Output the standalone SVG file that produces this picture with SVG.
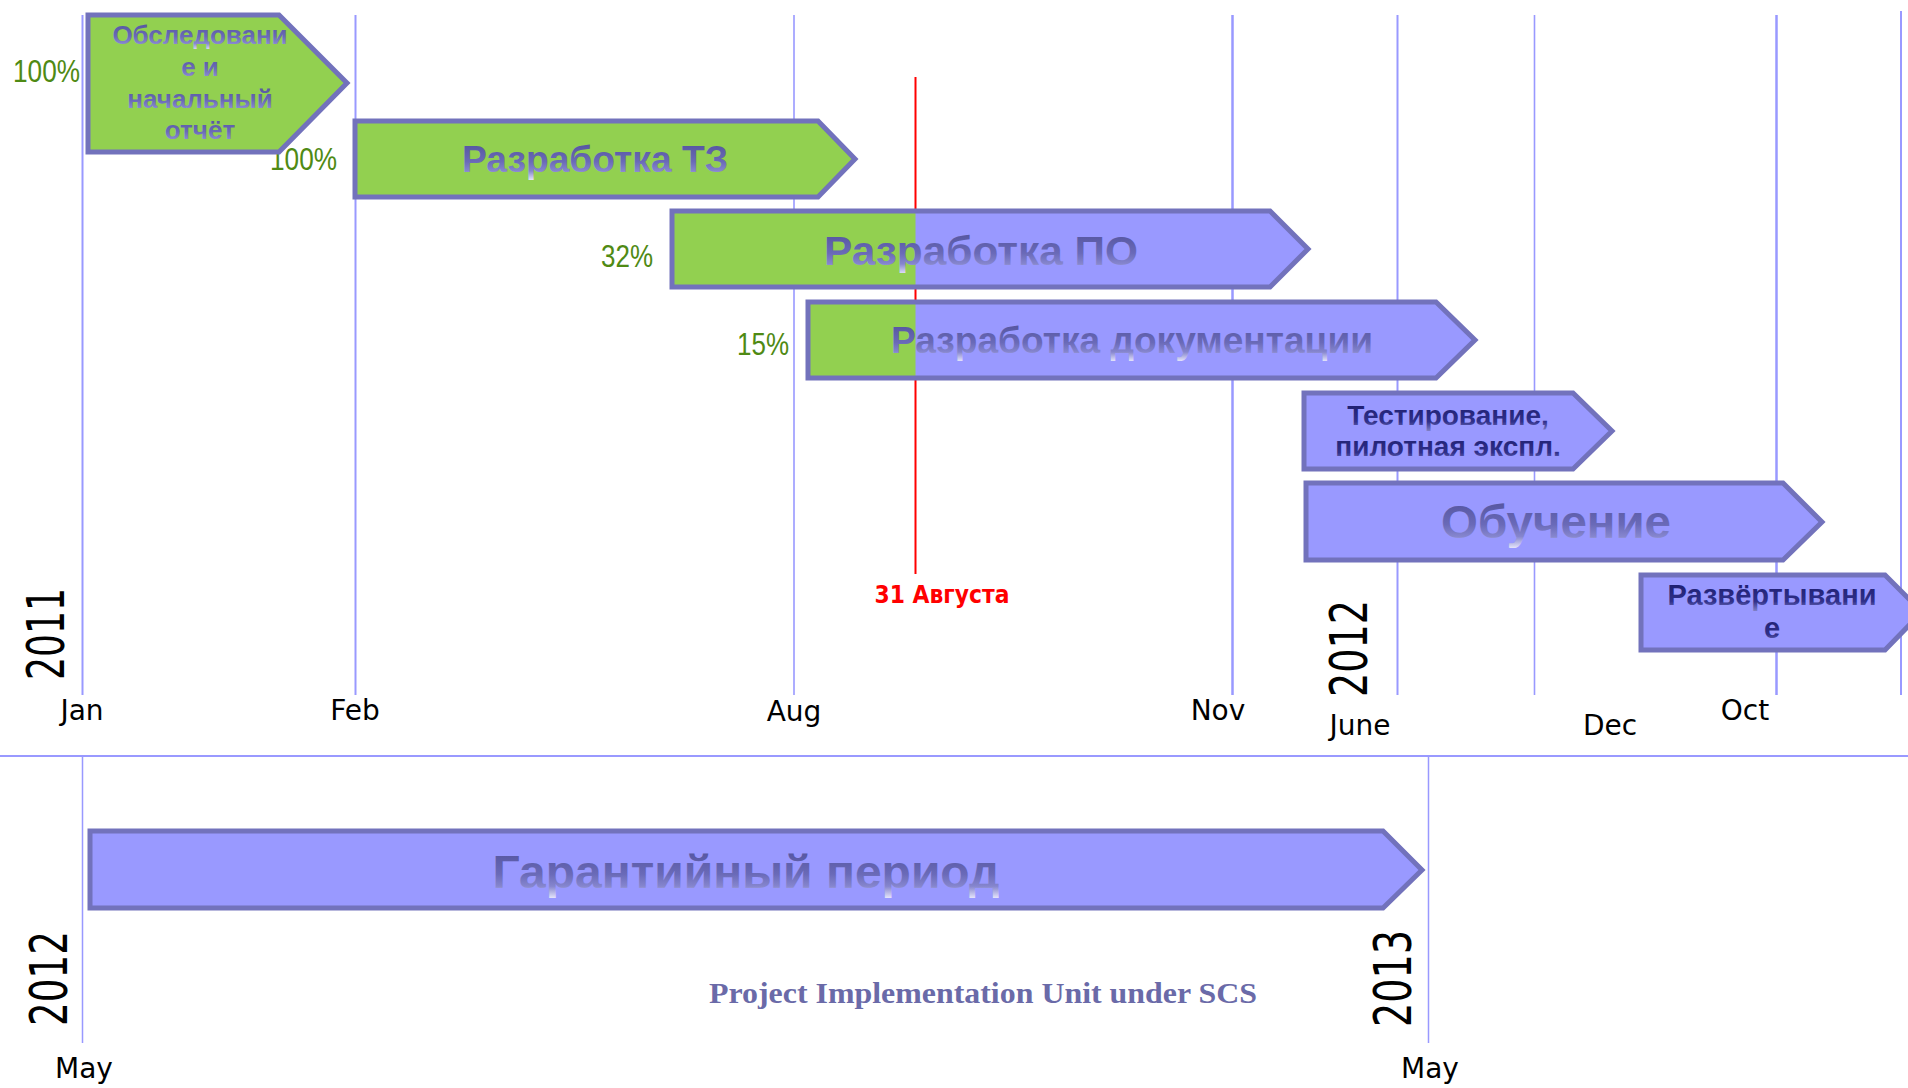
<svg xmlns="http://www.w3.org/2000/svg" width="1908" height="1088" viewBox="0 0 1908 1088">
<style>
.grid{stroke:#9999ff;stroke-width:2;fill:none}
.bar{stroke:#7272bc;stroke-width:5;stroke-linejoin:miter}
.green{fill:#92d050}
.purple{fill:#9999ff}
.lbl{font-family:"Liberation Sans",Arial,sans-serif;font-weight:bold;text-anchor:middle}
.lt{fill:url(#lightText)}
.dk{fill:url(#darkText)}
.mon{font-family:"DejaVu Sans",Verdana,sans-serif;font-size:28px;fill:#000;text-anchor:middle}
.yr{font-family:"DejaVu Sans",Verdana,sans-serif;font-size:52px;fill:#000}
.pct{font-family:"Liberation Sans",Arial,sans-serif;font-size:31px;fill:#4f8a14;text-anchor:end}
</style>
<defs>
<linearGradient id="lightText" x1="0" y1="0" x2="0" y2="1">
<stop offset="0" stop-color="#50509a"/>
<stop offset="0.55" stop-color="#6a6ab8"/>
<stop offset="0.78" stop-color="#8686ce"/>
<stop offset="1" stop-color="#e4e4fa"/>
</linearGradient>
<linearGradient id="darkText" x1="0" y1="0" x2="0" y2="1">
<stop offset="0" stop-color="#1a1a6a"/>
<stop offset="0.7" stop-color="#30308a"/>
<stop offset="1" stop-color="#8080c8"/>
</linearGradient>
</defs>
<rect width="1908" height="1088" fill="#fff"/>

<g id="grid">
<line class="grid" x1="82.5" y1="15" x2="82.5" y2="695"/>
<line class="grid" x1="355.5" y1="15" x2="355.5" y2="695"/>
<line class="grid" x1="794" y1="15" x2="794" y2="695" style="stroke-width:1.6"/>
<line class="grid" x1="1232.5" y1="15" x2="1232.5" y2="695" style="stroke-width:2.5"/>
<line class="grid" x1="1397.5" y1="15" x2="1397.5" y2="695"/>
<line class="grid" x1="1534.5" y1="15" x2="1534.5" y2="695" style="stroke-width:1.6"/>
<line class="grid" x1="1776.5" y1="15" x2="1776.5" y2="695" style="stroke-width:2.5"/>
<line class="grid" x1="1901" y1="11" x2="1901" y2="695"/>
<line class="grid" x1="0" y1="756" x2="1908" y2="756" style="stroke-width:2"/>
<line class="grid" x1="82.5" y1="756" x2="82.5" y2="1043" style="stroke-width:1.5"/>
<line class="grid" x1="1428.5" y1="756" x2="1428.5" y2="1043" style="stroke-width:1.5"/>
<line x1="915.5" y1="77" x2="915.5" y2="574" stroke="#ff0000" stroke-width="2"/>
</g>

<g id="labels">
<text class="mon" x="82" y="720">Jan</text>
<text class="mon" x="355" y="720">Feb</text>
<text class="mon" x="794" y="721">Aug</text>
<text class="mon" x="1218" y="720">Nov</text>
<text class="mon" x="1360" y="735">June</text>
<text class="mon" x="1610" y="735">Dec</text>
<text class="mon" x="1745" y="720">Oct</text>
<text class="mon" x="84" y="1078">May</text>
<text class="mon" x="1430" y="1078">May</text>
<text class="yr" transform="translate(64,680) rotate(-90)" textLength="92" lengthAdjust="spacingAndGlyphs">2011</text>
<text class="yr" transform="translate(1367,697) rotate(-90)" textLength="97" lengthAdjust="spacingAndGlyphs">2012</text>
<text class="yr" transform="translate(67,1026) rotate(-90)" textLength="95" lengthAdjust="spacingAndGlyphs">2012</text>
<text class="yr" transform="translate(1411,1027) rotate(-90)" textLength="97" lengthAdjust="spacingAndGlyphs">2013</text>
<text class="pct" x="80" y="82" textLength="67" lengthAdjust="spacingAndGlyphs">100%</text>
<text class="pct" x="337" y="170" textLength="67" lengthAdjust="spacingAndGlyphs">100%</text>
<text class="pct" x="653" y="267" textLength="52" lengthAdjust="spacingAndGlyphs">32%</text>
<text class="pct" x="789" y="355" textLength="52" lengthAdjust="spacingAndGlyphs">15%</text>
<text x="942" y="603" font-family="'DejaVu Sans',Verdana,sans-serif" font-weight="bold" font-size="24" fill="#ff0000" text-anchor="middle" textLength="135" lengthAdjust="spacingAndGlyphs">31 Августа</text>
<text x="983" y="1003" font-family="'Liberation Serif','Times New Roman',serif" font-weight="bold" font-size="29" fill="#6a6aa8" text-anchor="middle" textLength="548" lengthAdjust="spacingAndGlyphs">Project Implementation Unit under SCS</text>
</g>

<g id="task-survey">
<polygon class="bar green" points="88,15 279,15 347,83 279,152 88,152"/>
<text class="lbl lt" font-size="26" x="200" y="44">Обследовани</text>
<text class="lbl lt" font-size="26" x="200" y="76">е и</text>
<text class="lbl lt" font-size="26" x="200" y="108">начальный</text>
<text class="lbl lt" font-size="26" x="200" y="139">отчёт</text>
</g>

<g id="task-tz">
<polygon class="bar green" points="355,121 818,121 855,159 818,197 355,197"/>
<text class="lbl lt" x="595" y="172" font-size="36" textLength="266" lengthAdjust="spacingAndGlyphs">Разработка ТЗ</text>
</g>

<g id="task-po">
<polygon class="purple" points="672,211 1270,211 1308,249 1270,287 672,287"/>
<rect class="green" x="672" y="211" width="243.5" height="76"/>
<polygon class="bar" fill="none" points="672,211 1270,211 1308,249 1270,287 672,287"/>
<text class="lbl lt" x="981" y="265" font-size="41" textLength="314" lengthAdjust="spacingAndGlyphs">Разработка ПО</text>
</g>

<g id="task-docs">
<polygon class="purple" points="808,302 1436,302 1475,340 1436,378 808,378"/>
<rect class="green" x="808" y="302" width="107.5" height="76"/>
<polygon class="bar" fill="none" points="808,302 1436,302 1475,340 1436,378 808,378"/>
<text class="lbl lt" x="1132" y="353" font-size="36" textLength="482" lengthAdjust="spacingAndGlyphs">Разработка документации</text>
</g>

<g id="task-testing">
<polygon class="bar purple" points="1304,393 1573,393 1612,431 1573,469 1304,469"/>
<text class="lbl dk" font-size="28" x="1448" y="425">Тестирование,</text>
<text class="lbl dk" font-size="28" x="1448" y="456">пилотная экспл.</text>
</g>

<g id="task-training">
<polygon class="bar purple" points="1306,483 1783,483 1822,522 1783,560 1306,560"/>
<text class="lbl lt" x="1556" y="538" font-size="46" textLength="230" lengthAdjust="spacingAndGlyphs">Обучение</text>
</g>

<g id="task-deploy">
<polygon class="bar purple" points="1641,575 1885,575 1922,612 1885,650 1641,650"/>
<text class="lbl dk" font-size="29" x="1772" y="605">Развёртывани</text>
<text class="lbl dk" font-size="29" x="1772" y="638">е</text>
</g>

<g id="task-warranty">
<polygon class="bar purple" points="90,831 1383,831 1422,870 1383,908 90,908"/>
<text class="lbl lt" x="746" y="888" font-size="47" textLength="507" lengthAdjust="spacingAndGlyphs">Гарантийный период</text>
</g>
</svg>
